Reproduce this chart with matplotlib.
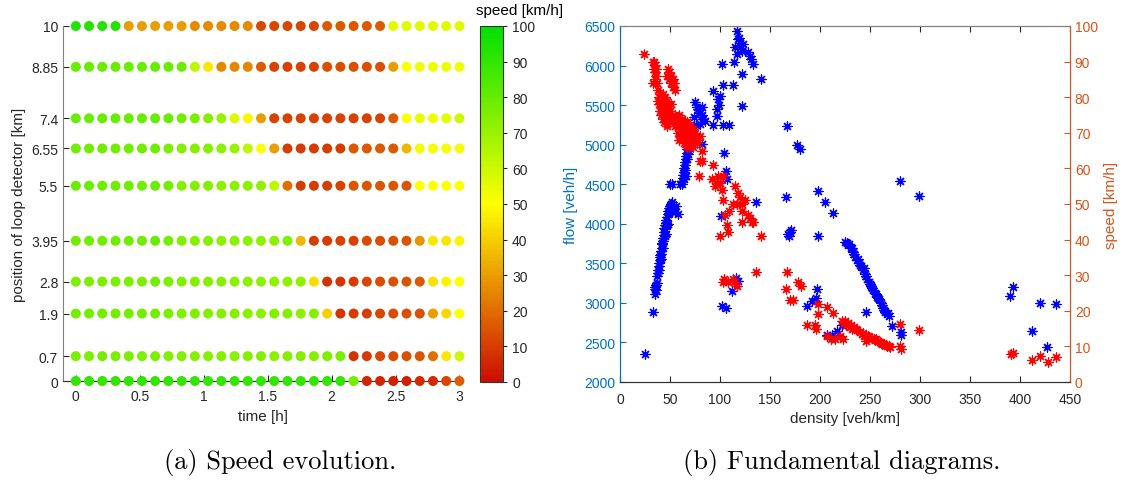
import numpy as np
import matplotlib
matplotlib.use("Agg")
import matplotlib.pyplot as plt
from matplotlib.colors import LinearSegmentedColormap

# ---------------- data: (a) speed evolution ----------------
positions = [0, 0.7, 1.9, 2.8, 3.95, 5.5, 6.55, 7.4, 8.85, 10]
position_labels = ["0", "0.7", "1.9", "2.8", "3.95", "5.5", "6.55", "7.4", "8.85", "10"]
times = np.linspace(0, 3, 30)

speed_0 = [90, 90, 90, 90, 90, 91, 90, 90, 90, 90, 90, 90, 90, 90, 90, 90, 90, 90, 90, 90, 91,
           77, 5, 5, 4, 4, 6, 6, 12, 17]
speed_07 = [76, 76, 77, 76, 76, 75, 76, 75, 74, 74, 74, 74, 73, 74, 74, 73, 74, 74, 74, 75, 76,
            8, 10, 12, 13, 14, 15, 20, 45, 60]
speed_19 = [77, 77, 77, 77, 77, 77, 77, 76, 75, 75, 74, 74, 74, 73, 73, 74, 74, 73, 74,
            40, 8, 10, 10, 12, 13, 14, 14, 30, 42, 50]
speed_28 = [76, 76, 76, 76, 76, 76, 77, 76, 75, 74, 74, 74, 73, 73, 73, 72, 72, 72,
            43, 8, 8, 10, 12, 13, 14, 15, 16, 44, 48, 50]
speed_395 = [78, 78, 78, 78, 78, 78, 80, 77, 75, 74, 74, 73, 73, 73, 72, 73, 75,
             35, 10, 10, 11, 11, 13, 13, 14, 15, 28, 45, 45, 48]
speed_55 = [79, 79, 78, 78, 78, 78, 79, 77, 74, 74, 74, 73, 73, 73, 72,
            63, 20, 10, 10, 10, 11, 15, 15, 15, 15, 15, 50, 50, 50, 50]
speed_655 = [78, 78, 78, 78, 78, 78, 78, 76, 74, 74, 74, 72, 70, 63, 50, 30,
             10, 10, 10, 10, 10, 16, 16, 16, 16, 35, 52, 52, 52, 52]
speed_74 = [80, 80, 80, 80, 80, 80, 80, 80, 78, 76, 74, 70, 57, 48, 30,
            11, 11, 11, 11, 11, 11, 11, 11, 11, 16, 50, 55, 53, 55, 60]
speed_885 = [80, 80, 80, 80, 80, 80, 80, 80, 79, 63, 45, 25, 25, 25, 16,
             11, 11, 11, 11, 14, 14, 14, 14, 14, 30, 50, 53, 53, 53, 53]
speed_10 = [93, 93, 93, 93, 30, 30, 30, 30, 30, 26, 26, 26, 26, 26,
            12, 12, 12, 12, 12, 16, 16, 16, 16, 16, 56, 56, 56, 56, 56, 56]
speed_rows = [speed_0, speed_07, speed_19, speed_28, speed_395, speed_55,
              speed_655, speed_74, speed_885, speed_10]

# ---------------- data: (b) fundamental diagrams ----------------
flow_density = [25, 33, 35, 35, 36, 35, 36, 37,
                37, 38, 38, 39, 39, 40, 40, 41, 41, 42, 42, 43, 43, 44, 44, 45, 45, 46, 46, 47, 48, 48,
                49, 50, 51, 53, 55, 58, 56, 52, 44, 42, 40, 46, 48,
                39, 41, 43, 45, 47, 49, 50,
                52, 50,
                60, 62, 63, 63, 64, 64, 65, 65, 66, 66, 67, 67, 68, 68, 69, 70, 66, 70, 72, 82,
                64, 65, 67, 68, 69, 62,
                75, 77, 78, 80, 82, 83, 80, 76, 85, 82, 74,
                93, 103, 109, 93, 103, 113, 98, 100, 97, 97, 99, 102, 114, 122, 141, 122, 167,
                117, 118, 120, 123, 115, 117, 122, 128, 130, 131, 133, 119, 121,
                177, 180, 104, 106, 107, 136, 166, 198, 205, 213, 101, 170, 168, 171, 169, 198,
                102, 106, 112, 116, 118, 197, 196, 192, 187, 207, 212, 217, 222,
                225, 227, 229, 231, 233, 235, 237, 239, 241, 243, 245, 247, 249, 251, 253, 255,
                257, 259, 261, 263, 265, 267, 269, 262, 256, 250, 244, 238, 232,
                228, 234, 240, 246, 252, 258, 264, 268,
                246, 272, 281, 281, 299, 280,
                390, 393, 420, 436, 412, 427]
flow_values = [2350, 2880, 3110, 3180, 3230, 3200, 3160, 3250,
               3340, 3380, 3420, 3460, 3500, 3540, 3580, 3620, 3660, 3700, 3740, 3780, 3820, 3860, 3900,
               3940, 3980, 4010, 4050, 4090, 4120, 4160,
               4200, 4230, 4250, 4190, 4150, 4120, 4220, 4270, 3950, 3760, 3600, 3870, 4000,
               3420, 3560, 3700, 3850, 3990, 4130, 4180,
               4500, 4500,
               4500, 4540, 4580, 4620, 4660, 4700, 4740, 4780, 4820, 4860, 4900, 4940, 4980, 5020,
               5060, 5000, 4600, 5100, 5150, 5010,
               4560, 4680, 4820, 4880, 4960, 4500,
               5540, 5480, 5450, 5400, 5380, 5320, 5260, 5250, 5300, 5480, 5350,
               5250, 5250, 5250, 5680, 5750, 5750, 5580, 5620, 5450, 5360, 5500, 6020, 6050, 5890,
               5830, 5490, 5240,
               6440, 6330, 6290, 6270, 6230, 6150, 6180, 6170, 6120, 6080, 6020, 6350, 6250,
               5000, 4950, 4900, 4670, 4570, 4280, 4340, 4410, 4270, 4140, 4100, 3900, 3870, 3920,
               3850, 3850,
               2960, 2940, 3150, 3320, 3280, 3180, 3060, 3020, 2960, 2590, 2590, 2650, 2720,
               3770, 3760, 3740, 3700, 3640, 3580, 3540, 3500, 3460, 3420, 3370, 3300, 3260, 3210,
               3160, 3120, 3080, 3050, 3000, 2940, 2890, 2860, 2840, 2970, 3110, 3240, 3440, 3560,
               3700,
               3730, 3620, 3480, 3340, 3190, 3060, 2910, 2870,
               2880, 2710, 2600, 2630, 4350, 4540,
               3090, 3200, 3000, 2990, 2640, 2440]

speed_density = [24, 33, 34, 35, 35, 36, 37, 33, 48, 47, 49, 51, 53, 55, 50, 52,
                 34, 35, 36, 49, 51, 53, 54,
                 38, 39, 40, 41, 42, 43, 44, 45, 46, 47, 48, 40, 42, 44, 46, 49, 50, 52, 55, 43,
                 39, 41, 43, 45, 47, 41, 44, 47, 50, 51, 38, 40,
                 56, 58, 60, 62, 64, 66, 68, 70, 72, 74, 76, 62, 65, 68, 60, 58, 70, 64, 72, 66,
                 57, 78, 80, 69,
                 55, 59, 61, 63, 67, 69, 71, 73, 75, 77, 63, 67, 73, 59,
                 82, 82, 80, 93, 79, 97, 92, 95, 100, 102, 98, 103, 103, 105, 100, 107, 108,
                 115, 118, 120, 122, 125, 117, 113, 109, 122, 122, 128, 130, 132, 133, 141,
                 103, 104, 113, 114, 117, 108, 136, 167, 166, 170, 173, 178, 181, 198, 198,
                 207, 213, 187, 195, 196, 207, 211, 215, 220, 223,
                 222, 225, 228, 231, 234, 237, 240, 243, 246, 249, 252, 255, 258, 261, 264, 267,
                 270, 226, 232, 244, 256, 262,
                 224, 230, 236, 242, 248, 254, 260, 266, 269,
                 246, 280, 281, 280, 299, 391, 393, 412, 420, 428, 436]
speed_values = [92, 90, 88, 87, 85, 86, 84, 84, 88, 86, 85, 84, 83, 82, 86, 84,
                90, 89, 88, 87, 86, 85, 84,
                82, 80, 79, 78, 80, 77, 76, 78, 75, 74, 77, 81, 76, 79, 77, 75, 73, 74, 72, 74,
                78, 80, 81, 80, 79, 75, 73, 72, 76, 78, 79, 76,
                73, 72, 71, 72, 70, 71, 70, 69, 70, 68, 69, 74, 73, 72, 69, 70, 72, 67, 67, 68,
                74, 68, 69, 66,
                75, 75, 73, 71, 73, 71, 68, 71, 70, 67, 69, 66, 66, 68,
                65, 62, 62, 61, 58, 56, 57, 55, 56, 54, 58, 58, 51, 47, 41, 44, 42,
                55, 53, 52, 50, 51, 50, 50, 48, 48, 45, 47, 46, 45, 45, 41,
                28, 29, 29, 28, 27, 28, 31, 31, 26, 23, 23, 28, 27, 22, 19,
                21, 19.5, 16, 16, 15, 13, 12, 12, 13, 12,
                17, 17, 16.5, 16, 15.5, 14.5, 14, 13.8, 13.2, 12.7, 12.3, 11.8, 11.4, 11, 10.6,
                10.2, 9.8, 16, 15, 13, 12, 10.8,
                16.5, 15.5, 14.8, 13.5, 12.8, 12, 11.2, 10.4, 10,
                11.5, 16.3, 9.3, 10, 14.6, 7.9, 8.1, 6.3, 7.3, 5.6, 7]

# ---------------- styling ----------------
plt.rcParams['font.family'] = ['Liberation Sans', 'DejaVu Sans']
BLUE_AX = '#0072BD'
ORANGE_AX = '#D95319'
TXT = '#262626'

cmap = LinearSegmentedColormap.from_list(
    'rdylgn_custom',
    [(0.0, (0.80, 0.05, 0.0)), (0.5, (1.0, 1.0, 0.0)), (1.0, (0.0, 0.88, 0.0))])

fig = plt.figure(figsize=(11.32, 4.81), dpi=100)

# ---- (a) ----
axa = fig.add_axes([63 / 1132, 1 - 382 / 481, 399 / 1132, 355 / 481])
for pos, row in zip(positions, speed_rows):
    axa.scatter(times, [pos] * len(times), c=row, cmap=cmap, vmin=0, vmax=100,
                s=52, linewidths=0, clip_on=False, zorder=3)
axa.set_xlim(-0.1, 3.02)
axa.set_ylim(0, 10)
axa.set_yticks(positions)
axa.set_yticklabels(position_labels)
axa.set_xticks([0, 0.5, 1, 1.5, 2, 2.5, 3])
axa.set_xticklabels(["0", "0.5", "1", "1.5", "2", "2.5", "3"])
for side in ['top', 'right']:
    axa.spines[side].set_visible(False)
axa.spines['left'].set_color('#808080')
axa.spines['bottom'].set_color('#333333')
axa.tick_params(direction='in', length=4, labelsize=10, colors=TXT)
axa.tick_params(axis='x', pad=6)
axa.set_xlabel('time [h]', fontsize=11, color=TXT)
axa.set_ylabel('position of loop detector [km]', fontsize=11, color=TXT)

sm = plt.cm.ScalarMappable(cmap=cmap, norm=plt.Normalize(0, 100))
cax = fig.add_axes([480 / 1132, 1 - 383 / 481, 23 / 1132, 356 / 481])
cb = fig.colorbar(sm, cax=cax, ticks=list(range(0, 101, 10)))
cb.outline.set_edgecolor('#333333')
cax.tick_params(labelsize=10, colors=TXT, length=3)
fig.text(520 / 1132, 1 - 11 / 481, 'speed [km/h]', ha='center', va='center',
         fontsize=11, color='black')

# ---- (b) ----
axb = fig.add_axes([620 / 1132, 1 - 383 / 481, 450 / 1132, 356 / 481])
axb.scatter(flow_density, flow_values, marker=(8, 2, 0), s=42, color=(0, 0, 1),
            linewidths=0.9, zorder=3)
axb.set_xlim(0, 450)
axb.set_ylim(2000, 6500)
axb.set_xticks(range(0, 451, 50))
axb.set_yticks(range(2000, 6501, 500))
axb.set_xlabel('density [veh/km]', fontsize=11, color=TXT)
axb.set_ylabel('flow [veh/h]', fontsize=11, color=BLUE_AX)
axb.tick_params(axis='x', direction='in', length=4, labelsize=10, colors=TXT, top=True, pad=7)
axb.tick_params(axis='y', direction='in', length=4, labelsize=10, colors=BLUE_AX)

axr = axb.twinx()
axr.scatter(speed_density, speed_values, marker=(8, 2, 0), s=42, color=(1, 0, 0),
            linewidths=0.9, zorder=3)
axr.set_ylim(0, 100)
axr.set_yticks(range(0, 101, 10))
axr.set_ylabel('speed [km/h]', fontsize=11, color=ORANGE_AX)
axr.tick_params(axis='y', direction='in', length=4, labelsize=10, colors=ORANGE_AX)

for ax in (axb, axr):
    ax.spines['left'].set_color(BLUE_AX)
    ax.spines['right'].set_color(ORANGE_AX)
    ax.spines['top'].set_color('#808080')
    ax.spines['bottom'].set_color('#333333')

# ---- captions ----
cap_font = ['cmr10', 'DejaVu Serif']
fig.text(280 / 1132, 1 - 462 / 481, '(a) Speed evolution.', ha='center', va='center',
         fontsize=19, family=cap_font)
fig.text(842 / 1132, 1 - 462 / 481, '(b) Fundamental diagrams.', ha='center', va='center',
         fontsize=19, family=cap_font)

fig.savefig('out.png', dpi=100)
